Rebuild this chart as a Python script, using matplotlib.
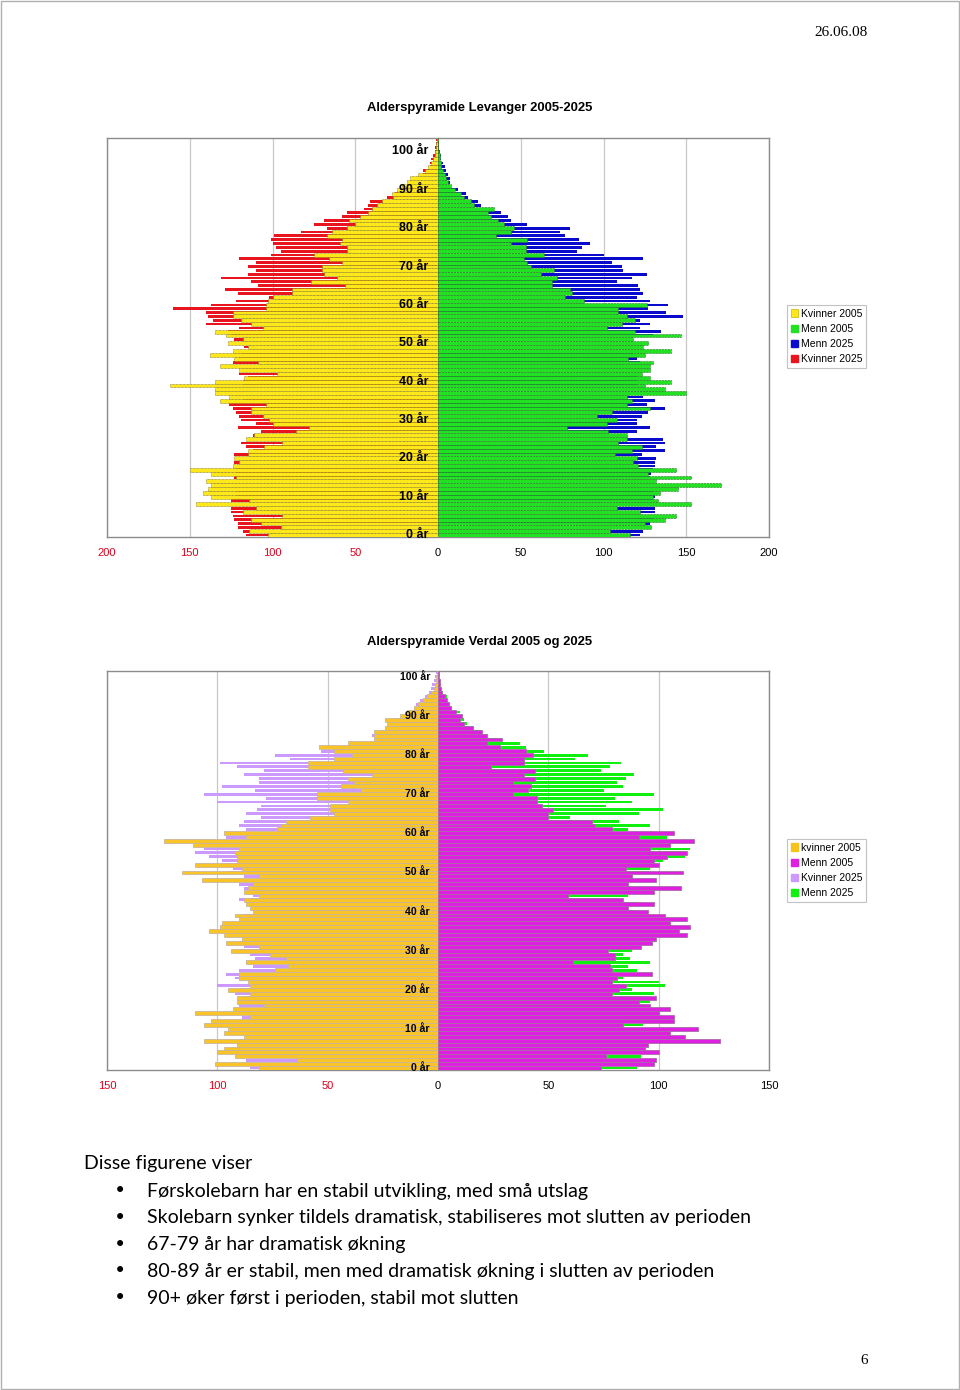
import numpy as np
import matplotlib
matplotlib.use("Agg")
import matplotlib.pyplot as plt
from matplotlib.patches import Patch, Rectangle

# Levanger, single-year age groups 0..103
lev_kvinner_2005 = [103, 114, 95, 107, 113, 94, 118, 110, 146, 114,
                    137, 142, 139, 137, 140, 122, 137, 150, 124, 120,
                    123, 115, 115, 105, 94, 116, 111, 86, 78, 100,
                    102, 106, 113, 113, 104, 132, 126, 135, 135, 162,
                    135, 117, 97, 120, 132, 109, 123, 138, 124, 115,
                    127, 118, 128, 135, 106, 113, 119, 124, 124, 104,
                    104, 103, 100, 88, 88, 56, 77, 61, 69, 70,
                    70, 58, 66, 75, 55, 55, 59, 58, 67, 64,
                    55, 50, 54, 47, 42, 40, 37, 34, 27, 28,
                    25, 22, 19, 17, 12, 8, 6, 4, 3, 2,
                    2, 1, 1, 0.5]
lev_kvinner_2025 = [116, 118, 121, 121, 123, 124, 125, 125, 120, 125,
                    122, 122, 121, 121, 122, 123, 122, 122, 121, 123,
                    120, 123, 112, 116, 119, 112, 112, 107, 121, 110,
                    119, 120, 122, 124, 126, 118, 118, 117, 118, 118,
                    118, 115, 120, 117, 118, 124, 120, 119, 118, 117,
                    118, 123, 125, 127, 120, 140, 136, 139, 140, 160,
                    137, 122, 102, 121, 129, 109, 113, 131, 115, 110,
                    115, 110, 120, 101, 95, 98, 100, 101, 99, 83,
                    67, 75, 69, 58, 55, 45, 42, 41, 31, 26,
                    22, 16, 16, 12, 9, 9, 5, 5, 4, 3,
                    2, 2, 1, 1]
lev_menn_2005 = [116, 104, 129, 125, 137, 144, 122, 108, 153, 133,
                 130, 134, 145, 171, 132, 153, 127, 144, 121, 118,
                 120, 107, 117, 123, 109, 114, 114, 103, 78, 102,
                 108, 96, 105, 128, 114, 117, 114, 150, 137, 125,
                 141, 128, 123, 128, 128, 130, 115, 125, 141, 124,
                 127, 118, 147, 119, 102, 111, 119, 114, 109, 109,
                 126, 88, 77, 81, 80, 69, 69, 72, 62, 70,
                 56, 54, 52, 64, 53, 53, 44, 54, 35, 44,
                 46, 40, 36, 32, 30, 34, 22, 20, 16, 14,
                 10, 8, 6, 5, 4, 3, 2, 2, 1, 1,
                 0.5, 0.3, 0.2, 0]
lev_menn_2025 = [122, 124, 125, 128, 130, 130, 131, 131, 130, 130,
                 131, 130, 130, 130, 129, 128, 129, 130, 131, 131,
                 132, 123, 137, 132, 137, 136, 114, 120, 128, 120,
                 120, 123, 127, 137, 126, 131, 124, 122, 122, 120,
                 120, 120, 118, 120, 120, 122, 120, 118, 118, 120,
                 120, 115, 130, 135, 122, 128, 122, 148, 138, 127,
                 139, 128, 120, 124, 122, 121, 108, 117, 126, 112,
                 111, 105, 124, 100, 84, 87, 92, 85, 77, 74,
                 80, 54, 44, 42, 38, 30, 26, 24, 18, 17,
                 12, 8, 7, 7, 6, 5, 4, 3, 2, 2,
                 1, 0.5, 0.5, 0.3]

# Verdal, single-year age groups 0..101
ver_kvinner_2005 = [81, 101, 64, 92, 100, 97, 91, 106, 88, 97,
                    95, 106, 103, 85, 110, 93, 79, 91, 91, 85,
                    95, 85, 86, 90, 90, 74, 68, 87, 69, 76,
                    94, 81, 96, 89, 97, 104, 99, 98, 90, 92,
                    84, 85, 87, 88, 81, 88, 86, 84, 107, 81,
                    116, 89, 110, 91, 91, 92, 90, 111, 124, 87,
                    97, 73, 71, 69, 58, 47, 49, 49, 41, 55,
                    55, 35, 44, 38, 41, 30, 43, 59, 59, 47,
                    39, 47, 54, 41, 29, 29, 29, 24, 23, 24,
                    17, 14, 11, 9, 7, 5, 3, 2, 1.5, 1,
                    1, 0.5]
ver_menn_2005 = [74, 98, 99, 76, 100, 94, 95, 128, 112, 105,
                 118, 84, 107, 107, 100, 105, 96, 91, 99, 79,
                 82, 85, 79, 81, 97, 79, 78, 61, 80, 80,
                 77, 92, 97, 99, 113, 109, 114, 105, 113, 103,
                 95, 86, 98, 84, 59, 98, 110, 86, 99, 88,
                 111, 85, 100, 98, 104, 113, 96, 105, 116, 91,
                 107, 79, 71, 70, 50, 50, 52, 47, 45, 45,
                 34, 41, 42, 34, 44, 39, 44, 24, 39, 39,
                 43, 40, 28, 22, 29, 22, 20, 16, 12, 10,
                 11, 8, 6, 5, 4, 3, 2, 1.5, 1, 0.8,
                 0.5, 0.3]
ver_kvinner_2025 = [85, 90, 87, 88, 90, 90, 88, 90, 86, 90,
                    90, 90, 92, 89, 95, 90, 90, 88, 88, 92,
                    90, 100, 84, 92, 96, 90, 84, 87, 83, 85,
                    90, 88, 90, 87, 90, 92, 92, 92, 88, 88,
                    82, 83, 85, 90, 84, 86, 88, 90, 95, 88,
                    95, 93, 98, 98, 104, 110, 106, 100, 100, 96,
                    92, 87, 90, 88, 80, 87, 82, 80, 100, 78,
                    106, 83, 98, 81, 81, 88, 79, 91, 99, 67,
                    74, 53, 50, 38, 28, 30, 26, 22, 20, 20,
                    15, 13, 11, 10, 8, 6, 4, 3, 2.5, 2,
                    1.5, 1]
ver_menn_2025 = [90, 92, 92, 92, 92, 90, 90, 92, 92, 92,
                 92, 93, 92, 92, 92, 94, 94, 96, 95, 98,
                 88, 103, 100, 84, 92, 90, 86, 96, 87, 84,
                 88, 88, 90, 90, 92, 92, 92, 92, 92, 90,
                 90, 84, 90, 82, 86, 90, 92, 84, 92, 86,
                 96, 96, 96, 102, 112, 112, 114, 100, 104, 104,
                 98, 86, 96, 82, 60, 91, 102, 76, 88, 80,
                 98, 75, 84, 81, 85, 89, 74, 78, 83, 62,
                 68, 48, 40, 37, 28, 22, 19, 16, 13, 12,
                 10, 10, 6.5, 5, 4, 4, 2.4, 1.5, 1, 0.8,
                 0.5, 0.3]

age_labels = ["0 år", "10 år", "20 år", "30 år", "40 år", "50 år",
              "60 år", "70 år", "80 år", "90 år", "100 år"]

bullets = [
    "Førskolebarn har en stabil utvikling, med små utslag",
    "Skolebarn synker tildels dramatisk, stabiliseres mot slutten av perioden",
    "67-79 år har dramatisk økning",
    "80-89 år er stabil, men med dramatisk økning i slutten av perioden",
    "90+ øker først i perioden, stabil mot slutten",
]

W, H = 960, 1390
fig = plt.figure(figsize=(W / 100, H / 100), dpi=100)
fig.patch.set_facecolor("white")


def fx(px):
    return px / W


def fy(py):
    return 1 - py / H


def pyramid(ax, women_05, men_05, women_25, men_25, cols, edges, styles, lw, lim,
            label_size, label_off):
    ages = np.arange(len(women_05))
    # 2025 behind (thinner), 2005 on top covering the whole row
    ax.barh(ages, -np.array(women_25), height=0.72, color=cols[2], lw=0, zorder=2)
    ax.barh(ages, men_25, height=0.72, color=cols[3], lw=0, zorder=2)
    ax.barh(ages, -np.array(women_05), height=1.0, color=cols[0],
            edgecolor=edges[0], lw=lw, linestyle=styles[0], zorder=3)
    ax.barh(ages, men_05, height=1.0, color=cols[1],
            edgecolor=edges[1], lw=lw, linestyle=styles[1], zorder=3)

    ax.set_xlim(-lim, lim)
    ax.set_ylim(-0.5, len(ages) - 0.5)
    ticks = list(range(-lim, lim + 1, 50))
    ax.set_xticks(ticks)
    ax.set_xticklabels([str(abs(t)) for t in ticks], fontsize=8, family="Liberation Sans")
    for lbl, t in zip(ax.get_xticklabels(), ticks):
        lbl.set_color("#e0001b" if t < 0 else "black")
    ax.tick_params(axis="x", length=0, pad=8)
    ax.set_yticks([])
    ax.grid(axis="x", color="#c8c8c8", lw=0.9, zorder=0)
    ax.set_axisbelow(True)
    for s in ax.spines.values():
        s.set_color("#8c8c8c")
        s.set_linewidth(1.0)
    for i, lab in enumerate(age_labels):
        ax.annotate(lab, xy=(0, i * 10), xytext=(-label_off, 0), textcoords="offset points",
                    ha="right", va="center", fontsize=label_size, fontweight="bold",
                    family="Liberation Sans", zorder=5)


def legend(handles, labels, top):
    leg = fig.legend(handles, labels, loc="upper left", bbox_to_anchor=(fx(787), fy(top)),
                     prop={"family": "Liberation Sans", "size": 7.5},
                     frameon=True, fancybox=False, edgecolor="#b4b4b4",
                     handlelength=0.7, handleheight=0.7, handletextpad=0.3,
                     borderpad=0.35, labelspacing=0.5, borderaxespad=0)
    leg.get_frame().set_linewidth(0.8)


# Chart 1: Levanger
ax1 = fig.add_axes([fx(107), fy(537), fx(769 - 107), (537 - 138) / H])
cols1 = ["#ffe81a", "#22e022", "#e8141e", "#0a0acc"]
pyramid(ax1, lev_kvinner_2005, lev_menn_2005, lev_kvinner_2025, lev_menn_2025,
        cols1, ["#6b5e1c", "#2a6f2a"], [(0, (1.5, 1)), (0, (4, 1.5))], 0.4, 200, 9.0, 7.0)
fig.text(0.5, fy(108), "Alderspyramide Levanger 2005-2025", ha="center", va="center",
         fontsize=9.4, fontweight="bold", family="Liberation Sans")
legend([Patch(facecolor="#ffe81a", edgecolor="#c8b400", lw=0.5),
        Patch(facecolor="#22e022", edgecolor="#22e022"),
        Patch(facecolor="#0a0acc", edgecolor="#0a0acc"),
        Patch(facecolor="#e8141e", edgecolor="#e8141e")],
       ["Kvinner 2005", "Menn 2005", "Menn 2025", "Kvinner 2025"], 305)

# Chart 2: Verdal
ax2 = fig.add_axes([fx(107), fy(1070), fx(769 - 107), (1070 - 671) / H])
cols2 = ["#f8c428", "#e020e0", "#cc99ff", "#10f010"]
pyramid(ax2, ver_kvinner_2005, ver_menn_2005, ver_kvinner_2025, ver_menn_2025,
        cols2, ["#c9b59e", "#a86aa8"], ["solid", "solid"], 0.6, 150, 7.6, 5.8)
fig.text(0.5, fy(642), "Alderspyramide Verdal 2005 og 2025", ha="center", va="center",
         fontsize=9.4, fontweight="bold", family="Liberation Sans")
legend([Patch(facecolor=c, edgecolor=c) for c in ["#f8c21c", "#e020e0", "#cc99ff", "#10f010"]],
       ["kvinner 2005", "Menn 2005", "Kvinner 2025", "Menn 2025"], 839)

# page furniture
fig.text(fx(868), fy(32), "26.06.08", ha="right", va="center", fontsize=11,
         family="Liberation Serif")
fig.text(fx(868), fy(1360), "6", ha="right", va="center", fontsize=11,
         family="Liberation Serif")
fig.text(fx(84), fy(1164), "Disse figurene viser", ha="left", va="center",
         fontsize=14, family="Lato")
for i, line in enumerate(bullets):
    y = 1191 + i * 26.8
    fig.text(fx(120), fy(y), "•", ha="center", va="center", fontsize=15, family="DejaVu Sans")
    fig.text(fx(147), fy(y), line, ha="left", va="center", fontsize=14, family="Lato")

fig.patches.append(Rectangle((0.001, 0.0008), 0.998, 0.9984, transform=fig.transFigure,
                             fill=False, edgecolor="#b0b0b0", lw=1))

fig.savefig("out.png", dpi=100, facecolor="white")
